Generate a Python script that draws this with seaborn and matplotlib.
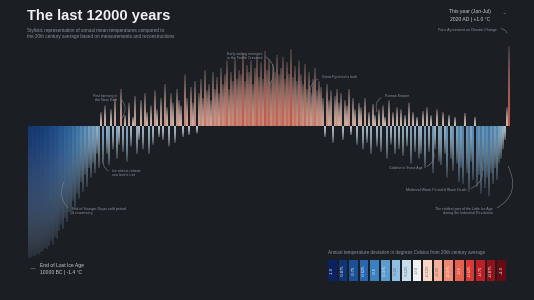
import numpy as np
import pandas as pd
import matplotlib
matplotlib.use("Agg")
import matplotlib.pyplot as plt
from matplotlib.colors import LinearSegmentedColormap
from matplotlib.path import Path
import seaborn as sns

sns.set_theme(style="dark")
plt.rcParams['font.family'] = ['Liberation Sans', 'DejaVu Sans']

BG = "#1b1e22"
GREY = "#8d929a"
LIGHT = "#c9ccd1"

# ---------------- data ----------------
years = list(range(-10000, 2001, 50))  # one bar per 50 years, last = present
anomaly = [
    -1.40, -1.40, -1.38, -1.39, -1.36, -1.37, -1.34, -1.33, -1.30, -1.31,
    -1.28, -1.22, -1.26, -1.18, -1.20, -1.12,
    -1.05, -1.10, -0.98, -1.02, -0.92,
    -0.95, -0.80, -0.88, -0.72, -0.78,
    -0.60, -0.70, -0.52, -0.65, -0.45,
    -0.55, -0.40, -0.50, -0.30, -0.45,
    0.15, -0.40, 0.22, -0.30, -0.42, 0.18, -0.25, 0.30, -0.35, -0.20,
    0.40, -0.28, 0.12, -0.38, 0.25, -0.22, 0.10, 0.32, -0.30, -0.15,
    0.28, -0.25, 0.35, 0.15, -0.30, 0.22, -0.20, 0.38, 0.18, -0.12,
    0.30, -0.15, 0.45, 0.20, -0.22, 0.35, 0.25, -0.18, 0.40, 0.28,
    0.22, -0.12, 0.55, 0.30, -0.10, 0.42, 0.25, 0.48, -0.08, 0.35,
    0.50, 0.30, 0.60, 0.38, 0.45, 0.28, 0.58, 0.40, 0.52, 0.35,
    0.62, 0.45, 0.55, 0.70, 0.40, 0.58, 0.48, 0.72, 0.50, 0.60,
    0.55, 0.78, 0.48, 0.65, 0.58, 0.70, 0.45, 0.62, 0.75, 0.52,
    0.68, 0.50, 0.80, 0.60, 0.72, 0.48, 0.66, 0.58, 0.76, 0.55,
    0.62, 0.74, 0.50, 0.68, 0.56, 0.82, 0.52, 0.64, 0.48, 0.70,
    0.55, 0.45, 0.66, 0.40, 0.58, 0.35, 0.50, 0.62, 0.38, 0.48,
    0.42, 0.30, -0.12, 0.45, 0.28, 0.38, -0.18, 0.32, 0.40, 0.25,
    0.35, -0.15, 0.28, 0.22, 0.40, -0.10, 0.30, 0.18, -0.20, 0.25,
    0.20, -0.25, 0.30, -0.18, 0.15, -0.30, 0.24, 0.12, -0.22, 0.18,
    -0.28, 0.22, 0.10, -0.35, 0.28, -0.20, 0.15, -0.30, 0.20, -0.25,
    0.18, -0.32, 0.12, -0.22, 0.25, -0.40, 0.15, -0.28, 0.10, -0.35,
    -0.30, 0.16, -0.45, 0.20, -0.28, 0.12, -0.50, -0.25, 0.18, -0.38,
    -0.42, 0.15, -0.30, -0.55, 0.12, -0.35, -0.48, 0.10, -0.40, -0.60,
    -0.45, -0.62, 0.14, -0.50, -0.70, -0.38, -0.58, 0.10, -0.65, -0.52,
    -0.72, -0.48, -0.66, -0.55, -0.75, -0.50, -0.62, -0.45, -0.58, -0.40,
    -0.35, -0.25, -0.15, 0.20, 0.85,
]
assert len(years) == len(anomaly)

legend_values = [-1.0, -0.875, -0.75, -0.625, -0.5, -0.375, -0.25, -0.125, 0.0,
                 0.125, 0.25, 0.375, 0.5, 0.625, 0.75, 0.875, 1.0]
legend_labels = ["-1.0", "-0.875", "-0.75", "-0.625", "-0.5", "-0.375", "-0.25", "-0.125",
                 "+0.0", "+0.125", "+0.25", "+0.375", "+0.5", "+0.625", "+0.75", "+0.875", "+1.0"]
legend_colors = ["#0a2260", "#0f3478", "#1b4f96", "#2a66ad", "#3b80c0", "#5a9bd0", "#8dbde0",
                 "#c3dcef", "#f3f3f3", "#fbd6c8", "#f6b09b", "#f08a73", "#e9614f", "#d93a34",
                 "#bd1f24", "#961219", "#660b12"]
cmap = LinearSegmentedColormap.from_list("temp", legend_colors)

df = pd.DataFrame({"year": years, "anomaly": anomaly})
N = len(df)

# ---------------- figure ----------------
W, H = 534, 300
fig = plt.figure(figsize=(W / 100, H / 100), dpi=100, facecolor=BG)
ax = fig.add_axes([28 / W, 0, 482 / W, 1])
ax.set_facecolor(BG)

YLO, YHI = (126 - 300) / 94, 126 / 94

sns.barplot(data=df, x="year", y="anomaly", color="#ffffff", width=0.8,
            saturation=1, ax=ax, zorder=1)

# gradient fill of each bar (colour at the base, lighter and fading towards the tip)
bars = list(ax.patches)
paths = [b.get_path().transformed(b.get_patch_transform()) for b in bars]
compound = Path.make_compound_path(*paths)
for b in bars:
    b.set_visible(False)

vals = df["anomaly"].to_numpy()
base = cmap(np.clip(vals / 1.7, -1, 1) * 0.5 + 0.5)[:, :3]
ny = 800
yy = np.linspace(YLO, YHI, ny)
V = vals[None, :]
Y = yy[:, None]
with np.errstate(divide="ignore", invalid="ignore"):
    t = Y / V
inside = (t >= 0) & (t <= 1)
t = np.clip(np.nan_to_num(t), 0, 1)
w = 0.45 * t ** 1.2
rgb = base[None, :, :] * (1 - w[..., None]) + w[..., None]
alpha = np.where(inside, 1 - 0.8 * t ** 1.8, 0.0)
img = np.concatenate([rgb, alpha[..., None]], axis=2)
im = ax.imshow(img, extent=(-0.5, N - 0.5, YLO, YHI), origin="lower",
               aspect="auto", interpolation="nearest", zorder=2)
im.set_clip_path(compound, ax.transData)

ax.set_xlim(-0.5, N - 0.5)
ax.set_ylim(YLO, YHI)
ax.axis("off")


def P(px, py):
    return ((px - 28) / 2 - 0.5, (126 - py) / 94)


def note(text, txy, pxy, ha, rad, relpos):
    ax.annotate(text, xy=P(*pxy), xytext=P(*txy), textcoords="data",
                fontsize=2.6, color=GREY, ha=ha, va="center", linespacing=1.3,
                zorder=5, annotation_clip=False,
                arrowprops=dict(arrowstyle="-", color="#7c8189", lw=0.4,
                                shrinkA=0.5, shrinkB=0, relpos=relpos,
                                connectionstyle=f"arc3,rad={rad}"))


note("First farming in\nthe Near East", (117, 98), (122, 118), "right", -0.5, (1, 0.7))
note("Early writing emerges\nin the Fertile Crescent", (262, 56), (270, 84), "right", -0.5, (1, 0.7))
note("Great Pyramid is built", (322, 77), (312, 100), "left", 0.5, (0, 0.5))
note("Roman Empire", (385, 96), (377, 112), "left", 0.5, (0, 0.5))
note("Ice sheets retreat,\nsea levels rise", (112, 173), (103, 157), "left", -0.4, (0, 0.5))
note("End of Younger Dryas cold period\n& rewarming", (72, 211), (64, 182), "left", -0.4, (0, 0.5))
note("Coldest in Stone Age", (423, 168), (433, 148), "right", 0.5, (1, 0.5))
note("Medieval Warm Period & Black Death", (467, 190), (481, 162), "right", 0.5, (1, 0.5))
note("The coldest part of the Little Ice Age\nduring the Industrial Revolution", (493, 211),
     (508, 166), "right", 0.5, (1, 0.6))
note("Paris Agreement on Climate Change", (497, 30), (507, 33), "right", -0.5, (1, 0.5))

# ---------------- titles ----------------
fig.text(27 / W, 1 - 16 / H, "The last 12000 years", fontsize=10.6, fontweight="bold",
         color="#eef0f2", va="center", ha="left")
fig.text(27 / W, 1 - 33.5 / H,
         "Stylistic representation of annual mean temperatures compared to\n"
         "the 20th century average based on measurements and reconstructions",
         fontsize=3.3, color=GREY, va="center", ha="left", linespacing=1.45)

fig.text(470 / W, 1 - 12 / H, "This year (Jan-Jul)", fontsize=3.6, color=LIGHT,
         ha="center", va="center")
fig.text(470 / W, 1 - 19 / H, "2020 AD | +1.0 °C", fontsize=3.6, color=LIGHT,
         ha="center", va="center")
ax.annotate("", xy=P(508, 15), xytext=P(501, 14),
            arrowprops=dict(arrowstyle="-", color="#7c8189", lw=0.4,
                            connectionstyle="arc3,rad=-0.3"), annotation_clip=False)

fig.text(40 / W, 1 - 266 / H, "End of Last Ice Age", fontsize=3.6, color=LIGHT,
         ha="left", va="center")
fig.text(40 / W, 1 - 272.5 / H, "10000 BC | -1.4 °C", fontsize=3.6, color=LIGHT,
         ha="left", va="center")
ax.annotate("", xy=P(28, 269), xytext=P(38, 270),
            arrowprops=dict(arrowstyle="-", color="#7c8189", lw=0.4,
                            connectionstyle="arc3,rad=0.2"), annotation_clip=False)

# ---------------- colour legend ----------------
fig.text(328 / W, 1 - 252.5 / H,
         "Annual temperature deviation in degrees Celsius from 20th century average",
         fontsize=3.3, color=GREY, ha="left", va="center")
lax = fig.add_axes([327 / W, 1 - 282 / H, 180 / W, 23 / H])
sns.heatmap(np.array([legend_values]), cmap=cmap, vmin=-1, vmax=1, cbar=False,
            annot=np.array([legend_labels]), fmt="",
            annot_kws={"rotation": 90, "fontsize": 3.0},
            linewidths=1.1, linecolor=BG, ax=lax, xticklabels=False, yticklabels=False)
for txt, v in zip(lax.texts, legend_values):
    txt.set_color("#6b6f75" if abs(v) <= 0.25 else "#f4f4f4")
lax.set_facecolor(BG)

fig.savefig("out.png", dpi=100, facecolor=BG)
